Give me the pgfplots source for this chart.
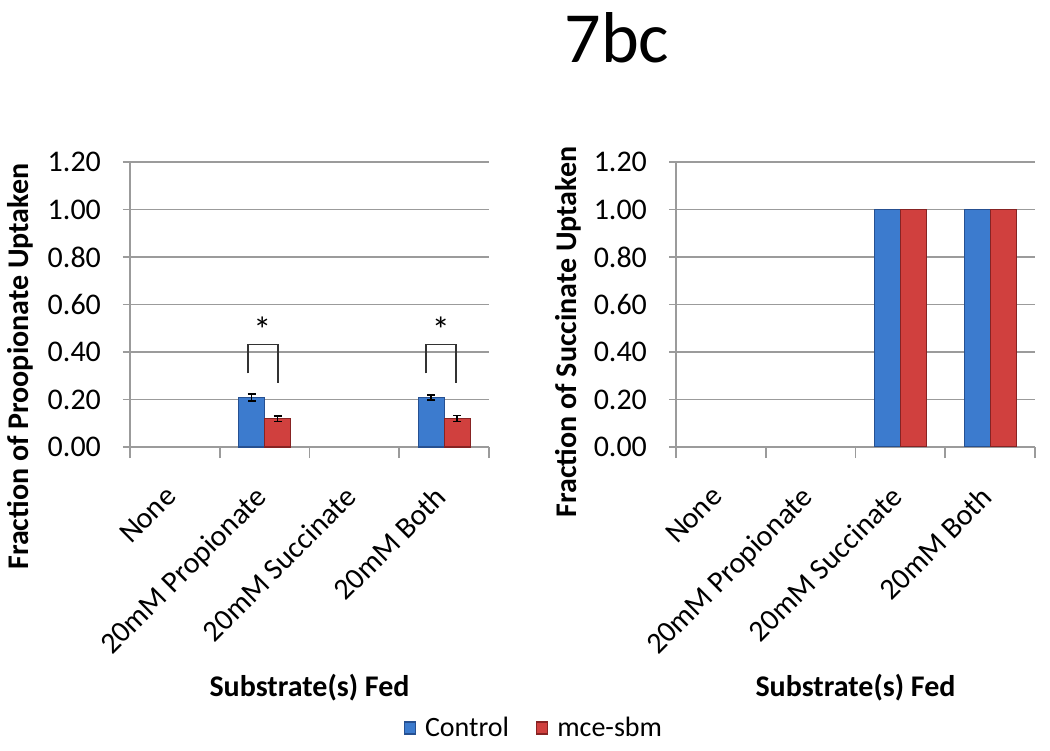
\documentclass[border=0pt]{standalone}
\usepackage{pgfplots}
\pgfplotsset{compat=1.18}
\usepackage{fontspec}
\setmainfont{Carlito}
\definecolor{cblue}{RGB}{60,123,206}
\definecolor{cblueD}{RGB}{38,80,145}
\definecolor{cred}{RGB}{208,64,62}
\definecolor{credD}{RGB}{135,35,35}
\definecolor{gridc}{RGB}{155,155,155}
\begin{document}
\begin{tikzpicture}
\path[use as bounding box] (0,0) rectangle (525pt,375pt);
\pgfplotsset{
  mystyle/.style={
    scale only axis, width=179.5pt, height=142.5pt,
    anchor=south west,
    ybar=0pt, bar width=13pt,
    xmin=-0.5, xmax=3.5, ymin=0, ymax=1.2,
    axis x line*=bottom, axis y line*=left,
    axis line style={gridc, line width=0.8pt},
    ytick={0,0.2,0.4,0.6,0.8,1.0,1.2},
    ymajorgrids, grid style={gridc, line width=0.8pt},
    /pgf/number format/assume math mode=true,
    yticklabel style={/pgf/number format/.cd, fixed, fixed zerofill, precision=2, /tikz/.cd, font=\fontsize{15}{17}\selectfont, xshift=-7.5pt},
    tick align=outside, major tick length=3.5pt,
    tick style={gridc, line width=0.8pt},
    xtick={0,1,2,3},
    xticklabels={None,20mM Propionate,20mM Succinate,20mM Both},
    x tick style={draw=none},
    xticklabel style={xshift=-5.4pt, yshift=-10.4pt, rotate=45, anchor=north east, font=\fontsize{15}{17}\selectfont},
    extra x ticks={-0.5,0.5,1.5,2.5,3.5},
    extra x tick labels={},
    extra x tick style={major tick length=5.5pt, x tick style={draw=gridc, line width=0.8pt}},
    label style={font=\bfseries\fontsize{15}{17}\selectfont},
    xlabel={Substrate(s) Fed},
    xlabel style={at={(axis description cs:0.5,-0.846)}, anchor=center},
    legend image code/.code={\draw[#1] (0pt,-3pt) rectangle (5.5pt,3pt);},
  },
  bluebar/.style={fill=cblue, draw=cblueD, line width=0.6pt},
  redbar/.style={fill=cred, draw=credD, line width=0.6pt},
  errs/.style={error bars/.cd, y dir=both, y explicit,
    error bar style={black, line width=0.8pt},
    error mark options={rotate=90, black, mark size=2pt, line width=0.8pt}},
}
\begin{axis}[mystyle, at={(65pt,151.5pt)},
  ylabel={Fraction of Proopionate Uptaken},
  ylabel style={at={(axis description cs:-0.306,0.282)}, anchor=center},
  legend style={at={(axis description cs:1.128,-0.986)}, anchor=center, draw=none,
    legend columns=2, font=\fontsize{14}{16}\selectfont,
    /tikz/every odd column/.append style={column sep=2.5pt},
    /tikz/every even column/.append style={column sep=11.5pt}},
]
\addplot[bluebar, errs] coordinates {(1,0.208) +- (0,0.014) (3,0.208) +- (0,0.010)};
\addplot[redbar, errs] coordinates {(1,0.119) +- (0,0.012) (3,0.120) +- (0,0.012)};
\legend{Control,mce-sbm}
\draw[black!80, line width=0.8pt] (axis cs:0.814,0.310) |- (axis cs:1.148,0.432) -- (axis cs:1.148,0.268);
\draw[black!80, line width=0.8pt] (axis cs:2.80,0.310) |- (axis cs:3.13,0.432) -- (axis cs:3.13,0.268);
\node[font=\fontsize{18}{20}\selectfont, anchor=base] at (axis cs:0.974,0.44) {*};
\node[font=\fontsize{18}{20}\selectfont, anchor=base] at (axis cs:2.963,0.44) {*};
\end{axis}
\begin{axis}[mystyle, at={(338pt,151.5pt)},
  ylabel={Fraction of Succinate Uptaken},
  ylabel style={at={(axis description cs:-0.301,0.404)}, anchor=center},
]
\addplot[bluebar] coordinates {(2,1.0) (3,1.0)};
\addplot[redbar] coordinates {(2,1.0) (3,1.0)};
\end{axis}
\node[font=\fontsize{36}{42}\selectfont, anchor=base] at (308.5pt,343.5pt) {7bc};
\end{tikzpicture}
\end{document}
